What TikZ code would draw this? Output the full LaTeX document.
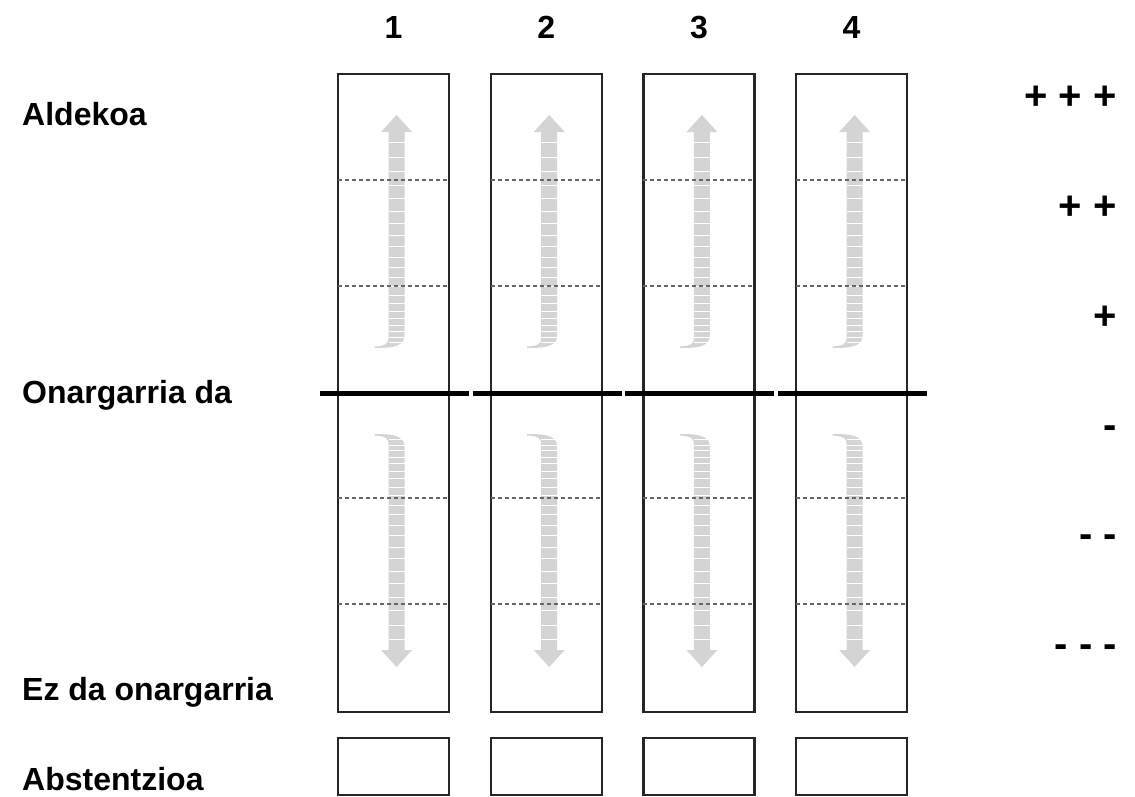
\documentclass[tikz,border=0pt]{standalone}
\usepackage{fontspec}
\setmainfont{Liberation Sans}
\usetikzlibrary{positioning}

\tikzset{
  lbl/.style={anchor=base west, inner sep=0pt, font=\fontsize{32}{38}\selectfont\bfseries},
  num/.style={anchor=base, inner sep=0pt, font=\fontsize{32}{38}\selectfont\bfseries},
  sym/.style={anchor=base east, inner sep=0pt, font=\fontsize{40}{48}\selectfont\bfseries},
  colbox/.style={draw=black!85, line width=2.3pt, minimum width=111pt, inner sep=0pt, outer sep=0pt},
  levelline/.style={black!60, line width=1.3pt, dash pattern=on 4pt off 3pt},
  midline/.style={line width=5pt},
  votearrow/.style={fill=black!17, draw=none},
  stripe/.style={white, line width=0.8pt}
}

\begin{document}
\begin{tikzpicture}[x=1pt, y=-1pt]
  \useasboundingbox (0,0) rectangle (1135,796);
  \node[lbl] (aldekoa) at (22,125) {Aldekoa};
  \node[lbl] (onargarria) at (22,403) {Onargarria da};
  \node[lbl] (ezonargarria) at (22,700) {Ez da onargarria};
  \node[lbl] (abstentzioa) at (22,790) {Abstentzioa};
  \foreach \i in {1,...,4} {
    \pgfmathsetmacro\cx{393.5+152.7*(\i-1)}
    \node[num] (num-\i) at (\cx,38) {\i};
    \node[colbox, minimum height=638pt] (col-\i) at (\cx,393) {};
    \node[colbox, minimum height=57pt] (abs-\i) at (\cx,766.5) {};
    % up and down arrows
    \foreach \s in {1,-1} {
      \begin{scope}[shift={(\cx+3,391)}, yscale=\s]
        \fill[votearrow] (-8,-259) -- (-15.5,-259) -- (0,-276) -- (15.5,-259) -- (8,-259)
          -- (8,-56) .. controls (8,-45) and (-2,-43) .. (-22,-43)
          -- (-22,-44.5) .. controls (-10,-45) and (-8,-48) .. (-8,-53) -- cycle;
        \foreach \k in {1,...,21}
          \draw[stripe] (-8,{-44-4.5*\k-0.25*\k*\k}) -- (8,{-44-4.5*\k-0.25*\k*\k});
      \end{scope}
    }
    \foreach \d in {106,212,424,530}
      \draw[levelline] ([yshift=-\d pt]col-\i.north west) -- ([yshift=-\d pt]col-\i.north east);
    \draw[midline] ([xshift=-18pt]col-\i.west) -- ([xshift=20pt]col-\i.east);
  }
  \node[sym] (sym-1) at (1117,109) {+ + +};
  \node[sym] (sym-2) at (1117,219) {+ +};
  \node[sym] (sym-3) at (1117,329) {+};
  \node[sym] (sym-4) at (1117,438) {-};
  \node[sym] (sym-5) at (1117,547) {- -};
  \node[sym] (sym-6) at (1117,657) {- - -};
\end{tikzpicture}
\end{document}
